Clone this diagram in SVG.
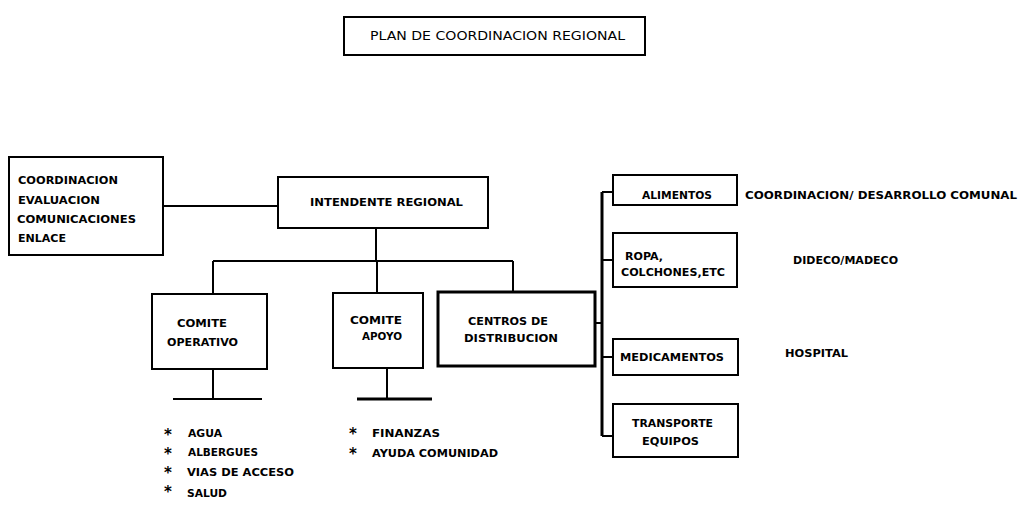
<svg xmlns="http://www.w3.org/2000/svg" width="1023" height="505" viewBox="0 0 1023 505">
<style>
.box{fill:#fff;stroke:#000;stroke-width:2}
.thick{stroke-width:3}
.t{font-family:"DejaVu Sans","Liberation Sans",sans-serif;font-weight:bold;font-size:11px;fill:#000}
.star{font-family:"DejaVu Sans","Liberation Sans",sans-serif;font-weight:bold;font-size:15px;fill:#000}
.title{font-family:"DejaVu Sans","Liberation Sans",sans-serif;font-size:12px;fill:#000}
.c{fill:none;stroke:#000;stroke-width:2}
.cs{fill:none;stroke:#000;stroke-width:3}
</style>
<rect width="1023" height="505" fill="#fff"/>
<g id="connectors">
<path class="c" d="M163 206H278"/>
<path class="c" d="M376 228V261M213 261H513M213 261V294M377 261V293M513 261V292"/>
<path class="c" d="M213 369V398M387 368V398"/>
<path class="c" d="M173 399H262"/>
<path class="cs" d="M357 399H432"/>
<path class="c" d="M595 323H602"/>
<path class="cs" d="M602 192V436"/>
<path class="c" d="M602 192H613M602 260H613M602 357H613M602 436H613"/>
</g>
<g id="title"><rect class="box" x="344" y="17" width="301" height="38"/><text class="title" x="370" y="40" textLength="255" lengthAdjust="spacingAndGlyphs">PLAN DE COORDINACION REGIONAL</text></g>
<g id="staff"><rect class="box" x="9" y="157" width="154" height="98"/>
<text class="t" x="18" y="184" textLength="100" lengthAdjust="spacingAndGlyphs">COORDINACION</text>
<text class="t" x="18" y="204" textLength="82" lengthAdjust="spacingAndGlyphs">EVALUACION</text>
<text class="t" x="17" y="223" textLength="119" lengthAdjust="spacingAndGlyphs">COMUNICACIONES</text>
<text class="t" x="18" y="242" textLength="48" lengthAdjust="spacingAndGlyphs">ENLACE</text></g>
<g id="intendente"><rect class="box" x="278" y="177" width="210" height="51"/><text class="t" x="310" y="206" textLength="153" lengthAdjust="spacingAndGlyphs">INTENDENTE REGIONAL</text></g>
<g id="comite-operativo"><rect class="box" x="152" y="294" width="115" height="75"/>
<text class="t" x="177" y="327" textLength="50" lengthAdjust="spacingAndGlyphs">COMITE</text>
<text class="t" x="167" y="346" textLength="71" lengthAdjust="spacingAndGlyphs">OPERATIVO</text></g>
<g id="comite-apoyo"><rect class="box" x="333" y="293" width="90" height="75"/>
<text class="t" x="350" y="324" textLength="52" lengthAdjust="spacingAndGlyphs">COMITE</text>
<text class="t" x="362" y="340" textLength="40" lengthAdjust="spacingAndGlyphs">APOYO</text></g>
<g id="centros"><rect class="box thick" x="438" y="292" width="157" height="74"/>
<text class="t" x="468" y="325" textLength="80" lengthAdjust="spacingAndGlyphs">CENTROS DE</text>
<text class="t" x="464" y="342" textLength="94" lengthAdjust="spacingAndGlyphs">DISTRIBUCION</text></g>
<g id="alimentos"><rect class="box" x="613" y="175" width="124" height="30"/>
<text class="t" x="642" y="199" textLength="70" lengthAdjust="spacingAndGlyphs">ALIMENTOS</text></g>
<g id="ropa"><rect class="box" x="613" y="233" width="124" height="54"/>
<text class="t" x="625" y="260" textLength="38" lengthAdjust="spacingAndGlyphs">ROPA,</text>
<text class="t" x="621" y="276" textLength="104" lengthAdjust="spacingAndGlyphs">COLCHONES,ETC</text></g>
<g id="medicamentos"><rect class="box" x="613" y="339" width="125" height="36"/>
<text class="t" x="620" y="361" textLength="104" lengthAdjust="spacingAndGlyphs">MEDICAMENTOS</text></g>
<g id="transporte"><rect class="box" x="613" y="404" width="125" height="53"/>
<text class="t" x="632" y="427" textLength="81" lengthAdjust="spacingAndGlyphs">TRANSPORTE</text>
<text class="t" x="642" y="445" textLength="57" lengthAdjust="spacingAndGlyphs">EQUIPOS</text></g>
<g id="labels">
<text class="t" x="745" y="199" textLength="272" lengthAdjust="spacingAndGlyphs">COORDINACION/ DESARROLLO  COMUNAL</text>
<text class="t" x="793" y="264" textLength="105" lengthAdjust="spacingAndGlyphs">DIDECO/MADECO</text>
<text class="t" x="785" y="357" textLength="63" lengthAdjust="spacingAndGlyphs">HOSPITAL</text>
</g>
<g id="list-operativo">
<text class="star" x="164" y="440">*</text><text class="t" x="188" y="437" textLength="34" lengthAdjust="spacingAndGlyphs">AGUA</text>
<text class="star" x="164" y="459">*</text><text class="t" x="188" y="456" textLength="70" lengthAdjust="spacingAndGlyphs">ALBERGUES</text>
<text class="star" x="164" y="478">*</text><text class="t" x="187" y="476" textLength="107" lengthAdjust="spacingAndGlyphs">VIAS DE ACCESO</text>
<text class="star" x="164" y="497">*</text><text class="t" x="187" y="497" textLength="40" lengthAdjust="spacingAndGlyphs">SALUD</text>
</g>
<g id="list-apoyo">
<text class="star" x="349" y="439">*</text><text class="t" x="372" y="437" textLength="68" lengthAdjust="spacingAndGlyphs">FINANZAS</text>
<text class="star" x="349" y="459">*</text><text class="t" x="372" y="457" textLength="126" lengthAdjust="spacingAndGlyphs">AYUDA COMUNIDAD</text>
</g>
</svg>
